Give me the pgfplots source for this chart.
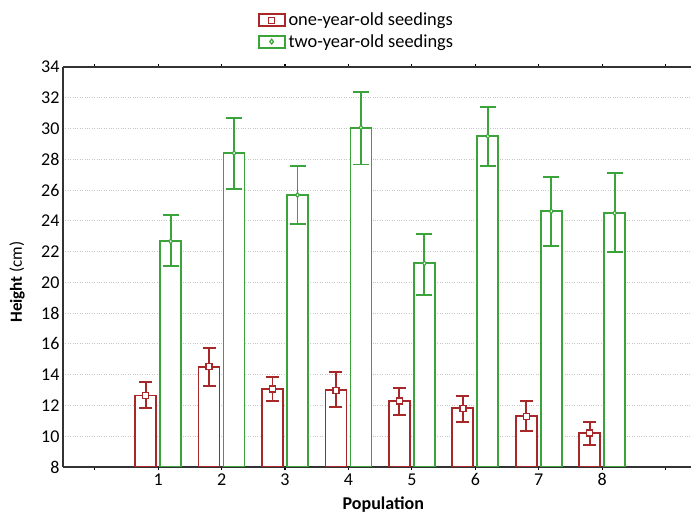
\documentclass[border=0pt]{standalone}
\usepackage{fontspec}
\setmainfont{Carlito}
\usepackage{pgfplots}
\usepackage{pgfplotstable}
\pgfplotsset{compat=1.18}

\definecolor{cred}{RGB}{168,40,42}
\definecolor{cgreen}{RGB}{58,164,58}

% bar height, error above, error below
\pgfplotstableread{
x y ep em
1 12.65 0.88 0.83
2 14.52 1.24 1.25
3 13.07 0.80 0.80
4 12.98 1.18 1.08
5 12.29 0.87 0.91
6 11.81 0.83 0.86
7 11.29 1.00 0.95
8 10.21 0.72 0.80
}\onetab

\pgfplotstableread{
x y ep em
1 22.67 1.69 1.62
2 28.40 2.27 2.35
3 25.68 1.87 1.88
4 30.06 2.32 2.40
5 21.24 1.91 2.08
6 29.50 1.90 1.95
7 24.62 2.21 2.25
8 24.50 2.60 2.50
}\twotab

\begin{document}
\begin{tikzpicture}
\begin{axis}[
    name=ax,
    scale only axis,
    width=628pt, height=400pt,
    xmin=-0.5, xmax=9.4,
    ymin=8, ymax=34,
    ytick={8,10,...,34},
    xtick={0,...,9},
    xticklabels={,1,2,3,4,5,6,7,8,},
    axis x line*=box,
    axis y line*=left,
    axis line style={line width=1.5pt, black!80},
    ymajorgrids,
    grid style={dotted, gray!45, line width=1pt},
    y tick style={draw=none},
    x tick style={black, line width=1.2pt},
    tick align=inside,
    major tick length=3pt,
    tick label style={font=\fontsize{18}{20}\selectfont},
    /pgf/number format/assume math mode=true,
    xlabel={\textbf{Population}},
    xlabel style={font=\fontsize{18}{20}\selectfont, at={(axis description cs:0.51,-0.094)}, anchor=center},
    ylabel={\textbf{Height} (cm)},
    ylabel style={font=\fontsize{17}{20}\selectfont, at={(axis description cs:-0.073,0.4625)}, anchor=center},
    ybar,
    bar width=21pt,
    legend style={draw=none, fill=none, at={(axis description cs:0.305,1.145)}, anchor=north west,
        font=\fontsize{18.4}{21}\selectfont, cells={anchor=west}, row sep=3pt,
        nodes={inner xsep=3pt}},
    legend image code/.code={
        \draw[#1, sharp plot, fill=white] (0pt,-6pt) rectangle (26pt,6pt);
        \draw[#1, sharp plot, mark options={fill=white, line width=1.2pt}] plot coordinates {(13pt,0pt)};
    },
]
\addplot[cred, fill=white, line width=1.8pt, bar shift=-12.5pt,
    mark=square*, mark size=3pt, mark options={fill=white, line width=1.5pt, xshift=-12.5pt},
    error bars/.cd, y dir=both, y explicit,
    error bar style={cred, line width=1.8pt},
    error mark options={rotate=90, mark size=6.5pt, line width=1.8pt}]
    table[x=x, y=y, y error plus=ep, y error minus=em] {\onetab};
\addlegendentry{one-year-old seedings}
\addplot[cgreen, fill=white, line width=1.8pt, bar shift=12.5pt,
    mark=diamond*, mark size=2.4pt, mark options={fill=white, line width=1.1pt, xshift=12.5pt},
    error bars/.cd, y dir=both, y explicit,
    error bar style={cgreen, line width=1.8pt},
    error mark options={rotate=90, mark size=8pt, line width=1.8pt}]
    table[x=x, y=y, y error plus=ep, y error minus=em] {\twotab};
\addlegendentry{two-year-old seedings}
\end{axis}
\pgfresetboundingbox
\path ([shift={(-63pt,-47pt)}]ax.south west) rectangle ([shift={(628pt,467pt)}]ax.south west);
\end{tikzpicture}
\end{document}
